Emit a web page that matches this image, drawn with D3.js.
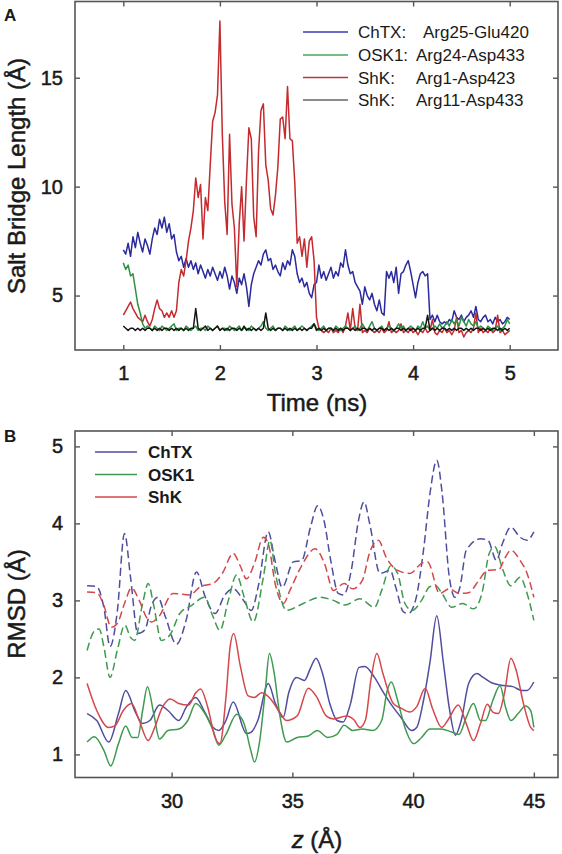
<!DOCTYPE html>
<html><head><meta charset="utf-8">
<script src="https://cdn.jsdelivr.net/npm/d3@7"></script>
<style>
body{margin:0;background:#fff}
svg{display:block}
text{font-family:"Liberation Sans",Arial,Helvetica,sans-serif;fill:#1a1a1a}
.heavy{stroke:#1a1a1a;stroke-width:0.5px}
</style>
</head><body>
<svg id="chart" width="562" height="854"></svg>
<script>
// ---------------- Panel A data (time grid 1.0 .. 5.0 ns, step 0.025) ----------------
const timeStart = 1.0, timeStep = 0.025;
const chtxBridge = [7.1,6.9,7.4,6.8,7.7,7.2,7.9,7.4,7.0,7.6,7.3,6.9,7.6,8.1,7.8,8.5,8.1,8.6,7.9,8.3,
 7.6,7.8,7.0,6.6,6.8,6.3,6.7,6.3,6.6,6.2,6.5,6.0,6.4,6.1,5.8,6.2,5.9,6.3,6.0,5.7,
 6.1,5.8,6.3,5.9,5.3,5.9,5.6,5.1,5.8,5.5,6.0,5.4,4.5,5.5,6.0,6.3,6.6,6.4,6.9,7.1,
 6.6,6.7,6.2,6.4,6.1,5.9,6.5,6.2,6.6,6.4,7.1,6.8,6.0,5.6,5.8,5.4,5.6,5.1,4.9,5.5,
 5.6,6.4,5.8,6.1,5.7,6.0,6.3,5.8,6.1,5.9,6.5,6.3,7.1,6.4,6.0,6.1,5.6,5.4,5.2,4.6,
 5.4,5.0,4.8,5.1,4.6,4.3,4.8,4.2,4.1,6.1,5.8,6.1,5.6,6.3,5.1,6.0,6.1,6.4,6.6,6.1,
 5.5,4.9,5.6,6.0,6.1,5.9,6.0,3.9,4.1,3.8,4.1,3.8,3.7,3.8,3.7,3.9,3.8,4.3,4.0,3.9,
 4.1,3.8,4.0,4.1,4.3,4.0,4.5,3.9,3.8,4.0,4.1,3.8,3.9,3.7,4.0,3.8,3.9,3.7,3.8,4.0,3.9];
const osk1Bridge = [6.5,6.2,6.4,5.9,6.0,5.3,4.6,4.2,3.7,3.5,3.6,3.5,3.4,3.6,3.5,3.4,3.6,3.5,3.4,3.5,
 3.6,3.7,3.4,3.5,3.5,3.4,3.6,3.5,3.4,3.5,3.6,3.4,3.5,3.5,3.4,3.6,3.5,3.4,3.5,3.6,
 3.4,3.5,3.5,3.4,3.6,3.5,3.4,3.5,3.6,3.4,3.5,3.5,3.4,3.6,3.5,3.4,3.5,3.6,3.8,3.5,
 3.4,3.5,3.6,3.4,3.5,3.5,3.4,3.6,3.5,3.4,3.5,3.6,3.4,3.5,3.6,3.5,3.4,3.5,3.6,3.7,
 3.5,3.4,3.5,3.6,3.4,3.5,3.5,3.4,3.6,3.5,3.4,3.5,3.6,3.5,3.4,3.5,3.6,3.4,3.5,3.7,
 3.5,3.4,3.6,3.8,3.5,3.4,3.5,3.6,3.4,3.5,3.6,3.5,3.4,3.5,3.7,3.5,3.6,3.4,3.5,3.6,
 3.5,3.4,3.6,3.5,3.8,3.5,3.6,3.4,3.5,3.6,3.5,3.7,3.5,3.6,3.8,3.6,3.9,3.7,3.9,3.6,
 4.0,3.8,3.6,3.9,3.7,3.6,3.8,3.5,3.6,3.5,3.4,3.6,3.5,3.4,3.5,3.6,3.4,3.5,3.6,3.9,3.7];
const shkArg1Bridge = [4.1,4.3,4.5,4.7,4.4,4.2,4.0,3.9,3.8,4.1,3.8,3.6,3.9,4.4,4.8,4.4,4.3,4.0,4.2,4.0,
 4.3,4.0,4.3,5.6,6.2,5.9,6.6,7.5,8.1,8.9,10.4,9.5,10.1,7.6,9.5,8.9,11.0,13.0,13.4,14.2,
 17.6,12.4,9.3,7.8,12.4,9.2,8.1,5.4,8.3,10.0,7.5,10.3,12.7,12.2,8.6,7.7,11.6,13.5,13.8,11.0,
 10.3,9.0,8.7,9.6,10.9,13.1,13.2,12.2,14.6,12.2,12.1,10.2,7.4,7.7,6.8,7.6,6.3,7.5,7.7,6.6,
 4.0,3.5,3.4,3.3,3.4,3.3,3.5,3.3,3.4,3.3,3.5,3.3,3.6,4.2,3.4,4.4,3.5,3.4,4.6,3.3,
 3.4,3.3,3.5,3.4,3.3,3.4,3.3,3.5,3.3,3.4,3.8,3.3,3.4,3.3,3.4,3.7,3.3,3.4,3.3,3.5,
 3.3,3.4,3.2,3.4,3.3,3.5,3.3,3.4,3.9,3.3,3.2,3.4,3.3,3.5,3.3,3.4,3.2,3.4,4.0,3.3,
 3.4,3.1,3.3,3.4,3.3,3.5,4.2,3.3,3.5,3.3,3.4,3.3,3.5,3.3,3.4,4.1,3.3,3.4,3.2,3.3,3.4];
const shkArg11Bridge = [3.6,3.5,3.4,3.5,3.5,3.4,3.5,3.4,3.5,3.4,3.5,3.5,3.4,3.5,3.4,3.5,3.4,3.5,3.5,3.4,
 3.5,3.4,3.5,3.4,3.5,3.4,3.5,3.4,3.5,3.5,4.4,3.5,3.4,3.5,3.6,3.4,3.5,3.4,3.5,3.6,
 3.4,3.5,3.4,3.5,3.4,3.5,3.5,3.4,3.5,3.4,3.6,3.4,3.5,3.4,3.5,3.4,3.5,3.4,3.5,4.2,
 3.5,3.4,3.5,3.4,3.5,3.5,3.4,3.5,3.4,3.5,3.4,3.5,3.4,3.5,3.4,3.5,3.4,3.5,3.5,3.7,
 3.4,3.5,3.4,3.5,3.4,3.5,3.5,3.4,3.5,3.4,3.5,3.4,3.5,3.5,3.4,3.5,3.4,3.5,3.4,3.5,
 3.5,3.4,3.5,3.4,3.5,3.4,3.5,3.5,3.4,3.5,3.4,3.5,3.4,3.5,3.5,3.4,3.5,3.4,3.5,3.4,
 3.5,3.4,3.5,3.4,3.5,3.5,4.1,3.4,3.5,3.4,3.5,3.4,3.5,3.5,3.4,3.5,3.4,3.5,3.4,3.5,
 3.5,3.4,3.5,3.4,3.5,3.4,3.5,3.5,3.4,3.5,3.4,3.5,3.4,3.5,3.5,3.4,3.5,3.4,3.5,3.4,3.5];
const seriesANames = ["ChTX:", "OSK1:", "ShK:", "ShK:"];
const seriesAPairs = ["Arg25-Glu420", "Arg24-Asp433", "Arg1-Asp423", "Arg11-Asp433"];
const timeTicks = [1, 2, 3, 4, 5];
const bridgeTicks = [5, 10, 15];

// ---------------- Panel B data: [z (Å), RMSD (Å)] ----------------
const chtxDashed = [[26.5,3.19],[26.9,3.18],[27.2,2.9],[27.45,2.4],[27.75,2.85],[28.05,3.87],[28.3,3.3],[28.6,2.57],[28.9,2.62],[29.15,2.92],[29.43,3.04],[29.75,2.78],[30.2,2.43],[30.6,2.74],[31.03,3.37],[31.4,3.04],[31.8,2.83],[32.2,3.07],[32.55,3.15],[32.98,3.0],[33.3,2.87],[33.6,3.2],[34.0,3.89],[34.28,3.52],[34.58,3.17],[35.04,3.5],[35.39,3.52],[35.75,3.95],[36.05,4.23],[36.3,4.05],[36.6,3.5],[36.9,3.09],[37.12,3.07],[37.44,3.39],[37.74,4.04],[37.97,4.28],[38.2,4.0],[38.63,3.35],[39.05,3.39],[39.3,3.15],[39.6,2.85],[39.8,2.83],[40.1,3.0],[40.43,3.65],[40.7,4.39],[40.98,4.82],[41.2,4.4],[41.5,3.3],[41.74,3.04],[41.94,3.17],[42.2,3.65],[42.8,3.8],[43.1,3.78],[43.45,3.52],[43.7,3.74],[44.05,3.95],[44.43,3.82],[44.72,3.78],[45.0,3.89]];
const osk1Dashed = [[26.5,2.35],[26.8,2.6],[27.0,2.63],[27.2,2.39],[27.45,2.0],[27.75,2.35],[28.06,2.68],[28.3,2.52],[28.47,2.48],[28.8,2.96],[29.03,3.22],[29.25,2.95],[29.58,2.48],[29.95,2.56],[30.34,2.83],[30.8,2.93],[31.37,3.04],[31.7,2.8],[32.0,2.61],[32.35,3.0],[32.69,3.33],[33.0,3.05],[33.38,2.72],[33.8,3.3],[34.07,3.78],[34.3,3.35],[34.76,2.87],[35.45,2.96],[36.14,3.04],[36.7,3.0],[37.17,2.94],[37.8,3.02],[38.4,2.91],[38.7,3.13],[39.08,3.45],[39.36,3.35],[39.66,2.96],[39.96,2.87],[40.35,3.0],[40.7,3.18],[40.93,3.19],[41.2,3.09],[41.6,2.91],[42.05,2.96],[42.5,2.89],[42.85,3.09],[43.15,3.61],[43.38,3.7],[43.68,3.43],[44.05,3.19],[44.43,3.3],[44.72,3.09],[45.0,2.74]];
const shkDashed = [[26.5,3.11],[26.9,3.1],[27.2,2.93],[27.5,2.65],[27.75,2.7],[28.05,2.96],[28.34,3.16],[28.66,3.0],[28.96,2.78],[29.17,2.72],[29.45,2.78],[30.06,3.09],[30.75,3.07],[31.2,3.18],[31.72,3.22],[32.1,3.35],[32.55,3.61],[32.84,3.45],[33.1,3.28],[33.43,3.48],[33.8,3.82],[34.0,3.74],[34.3,3.2],[34.63,2.96],[34.9,3.13],[35.35,3.43],[35.94,3.67],[36.33,3.48],[36.7,3.13],[37.14,3.22],[37.5,3.15],[37.9,3.26],[38.2,3.62],[38.56,3.78],[38.9,3.55],[39.36,3.39],[39.87,3.35],[40.35,3.48],[40.6,3.5],[41.1,3.09],[41.5,3.15],[41.9,3.09],[42.3,3.1],[42.7,3.25],[43.07,3.39],[43.55,3.4],[43.8,3.55],[44.05,3.65],[44.43,3.52],[44.72,3.35],[45.0,3.04]];
const chtxSolid = [[26.5,1.53],[26.9,1.44],[27.4,1.16],[27.8,1.53],[28.1,1.83],[28.5,1.55],[28.8,1.4],[29.1,1.44],[29.5,1.64],[29.85,1.57],[30.3,1.44],[30.6,1.61],[31.0,1.74],[31.34,1.57],[31.72,1.35],[31.95,1.31],[32.25,1.44],[32.55,1.68],[33.1,1.27],[33.3,1.29],[33.57,1.44],[34.0,1.92],[34.3,1.66],[34.62,1.48],[34.85,1.8],[35.17,2.0],[35.5,1.96],[35.75,2.12],[35.98,2.25],[36.25,2.05],[36.55,1.66],[36.85,1.44],[37.1,1.42],[37.4,1.65],[37.76,2.13],[38.0,2.14],[38.4,2.0],[38.8,1.79],[39.18,1.61],[39.5,1.48],[39.94,1.31],[40.15,1.35],[40.43,1.7],[40.7,2.2],[40.98,2.8],[41.25,2.2],[41.5,1.6],[41.75,1.25],[42.0,1.45],[42.3,1.92],[42.64,2.05],[42.9,2.0],[43.25,1.93],[43.6,1.9],[44.13,1.88],[44.5,1.83],[44.72,1.83],[45.0,1.94]];
const osk1Solid = [[26.5,1.16],[26.8,1.23],[27.2,1.05],[27.48,0.85],[27.8,1.14],[28.1,1.37],[28.37,1.22],[28.6,1.22],[28.8,1.57],[29.0,1.88],[29.26,1.53],[29.5,1.2],[29.85,1.31],[30.3,1.33],[30.67,1.44],[31.0,1.66],[31.34,1.55],[31.72,1.31],[31.95,1.12],[32.25,1.26],[32.7,1.52],[33.0,1.4],[33.28,1.05],[33.43,0.9],[33.65,1.18],[33.88,1.83],[34.05,2.31],[34.25,2.05],[34.47,1.53],[34.77,1.16],[35.2,1.22],[35.66,1.24],[36.03,1.31],[36.47,1.22],[36.85,1.26],[37.14,1.38],[37.5,1.31],[37.9,1.33],[38.33,1.31],[38.7,1.44],[38.93,1.83],[39.1,1.94],[39.36,1.7],[39.66,1.35],[40.03,1.14],[40.35,1.22],[40.7,1.33],[41.15,1.33],[41.6,1.29],[41.9,1.26],[42.2,1.48],[42.5,1.66],[42.79,1.44],[43.0,1.44],[43.3,1.7],[43.6,1.89],[43.83,1.61],[44.05,1.44],[44.35,1.53],[44.65,1.63],[44.87,1.57],[45.0,1.35]];
const shkSolid = [[26.5,1.92],[26.9,1.57],[27.4,1.35],[27.65,1.37],[28.0,1.57],[28.34,1.66],[28.66,1.44],[29.03,1.18],[29.3,1.35],[29.6,1.6],[29.95,1.72],[30.3,1.66],[30.7,1.64],[31.0,1.8],[31.2,1.85],[31.5,1.61],[31.8,1.22],[32.0,1.14],[32.25,1.74],[32.42,2.39],[32.57,2.57],[32.85,2.14],[33.17,1.76],[33.43,1.74],[33.72,1.8],[34.1,1.72],[34.47,1.55],[34.76,1.44],[35.2,1.5],[35.66,1.86],[36.0,1.75],[36.4,1.5],[36.7,1.46],[37.25,1.5],[37.55,1.45],[37.8,1.35],[38.03,1.45],[38.25,1.96],[38.5,2.31],[38.75,2.05],[39.18,1.66],[39.5,1.6],[39.87,1.55],[40.15,1.62],[40.5,1.86],[40.8,1.6],[41.19,1.35],[41.45,1.45],[41.87,1.64],[42.2,1.4],[42.5,1.18],[42.79,1.4],[43.07,1.65],[43.3,1.55],[43.53,1.53],[43.78,1.79],[44.05,2.25],[44.27,2.09],[44.57,1.66],[44.87,1.35],[45.0,1.31]];
const seriesBNames = ["ChTX", "OSK1", "ShK"];
const zTicks = [30, 35, 40, 45];
const rmsdTicks = [1, 2, 3, 4, 5];

// ---------------- drawing ----------------
const svg = d3.select("#chart");
const frameColor = "#555";

const xA = d3.scaleLinear().domain([0.5, 5.5]).range([75, 558]);
const yA = d3.scaleLinear().domain([2.5, 18.5]).range([350, 1.5]);
const xB = d3.scaleLinear().domain([26, 46]).range([75, 558]);
const yB = d3.scaleLinear().domain([0.7, 5.2]).range([777.5, 431]);
const fmt = d3.format("d");

function frame(x, y, xt, yt) {
  const [x0, x1] = x.range(), [y0, y1] = y.range();
  const g = svg.append("g");
  const style = s => s.attr("font-family", null).attr("font-size", null)
    .call(a => a.select(".domain").remove())
    .call(a => a.selectAll(".tick line").attr("stroke", frameColor).attr("stroke-width", 1.4))
    .call(a => a.selectAll(".tick text").style("font-size", "20px").attr("class", "heavy").attr("fill", "#1a1a1a"));
  g.append("g").attr("transform", `translate(0,${y0})`)
    .call(d3.axisBottom(x).tickValues(xt).tickFormat(fmt).tickSizeInner(-5).tickSizeOuter(0).tickPadding(16)).call(style);
  g.append("g").attr("transform", `translate(0,${y1})`)
    .call(d3.axisTop(x).tickValues(xt).tickSizeInner(-5).tickSizeOuter(0).tickFormat("")).call(style);
  g.append("g").attr("transform", `translate(${x0},0)`)
    .call(d3.axisLeft(y).tickValues(yt).tickFormat(fmt).tickSizeInner(-5).tickSizeOuter(0).tickPadding(12)).call(style);
  g.append("g").attr("transform", `translate(${x1},0)`)
    .call(d3.axisRight(y).tickValues(yt).tickSizeInner(-5).tickSizeOuter(0).tickFormat("")).call(style);
  g.append("rect").attr("x", x0).attr("y", y1).attr("width", x1 - x0).attr("height", y0 - y1)
    .attr("fill", "none").attr("stroke", frameColor).attr("stroke-width", 1.6);
}

// ---- Panel A ----
const colA = ["#2a2a9e", "#2f9142", "#c42a2e", "#141414"];
const legColA = ["#3b3bb0", "#4aa45c", "#b8383c", "#666666"];
const seriesA = [chtxBridge, shkArg1Bridge, osk1Bridge, shkArg11Bridge];
const seriesAColor = [colA[0], colA[2], colA[1], colA[3]];
const lineA = d3.line().x((d, i) => xA(timeStart + i * timeStep)).y(d => yA(d));
seriesA.forEach((s, k) => {
  svg.append("path").datum(s).attr("d", lineA).attr("fill", "none")
    .attr("stroke", seriesAColor[k]).attr("stroke-width", 1.5).attr("stroke-linejoin", "round");
});
frame(xA, yA, timeTicks, bridgeTicks);

const legA = svg.append("g");
const legARowY = [32, 55, 77.5, 100];
const pairX = [423, 416, 416, 416];
seriesANames.forEach((n, i) => {
  legA.append("line").attr("x1", 303).attr("x2", 348).attr("y1", legARowY[i]).attr("y2", legARowY[i])
    .attr("stroke", legColA[i]).attr("stroke-width", 1.6);
  legA.append("text").attr("x", 358).attr("y", legARowY[i] + 6).style("font-size", "17px").text(n);
  legA.append("text").attr("x", pairX[i]).attr("y", legARowY[i] + 6).style("font-size", "17px").text(seriesAPairs[i]);
});

svg.append("text").attr("x", 317).attr("y", 411).attr("text-anchor", "middle").attr("class", "heavy")
  .style("font-size", "24px").text("Time (ns)");
svg.append("text").attr("transform", "translate(25,176) rotate(-90)").attr("text-anchor", "middle").attr("class", "heavy")
  .style("font-size", "24px").text("Salt Bridge Length (Å)");
svg.append("text").attr("x", 4).attr("y", 21).style("font-size", "17px").style("font-weight", "bold").text("A");

// ---- Panel B ----
const colB = ["#4e4e9c", "#3f9a50", "#d4474c"];
const lineB = d3.line().x(d => xB(d[0])).y(d => yB(d[1])).curve(d3.curveMonotoneX);
const dashedB = [chtxDashed, osk1Dashed, shkDashed];
const solidB = [chtxSolid, osk1Solid, shkSolid];
dashedB.forEach((s, k) => {
  svg.append("path").datum(s).attr("d", lineB).attr("fill", "none")
    .attr("stroke", colB[k]).attr("stroke-width", 1.5).attr("stroke-dasharray", "8,4");
});
solidB.forEach((s, k) => {
  svg.append("path").datum(s).attr("d", lineB).attr("fill", "none")
    .attr("stroke", colB[k]).attr("stroke-width", 1.5);
});
frame(xB, yB, zTicks, rmsdTicks);

const legB = svg.append("g");
const legBRowY = [452, 474.5, 497];
seriesBNames.forEach((n, i) => {
  legB.append("line").attr("x1", 95).attr("x2", 137).attr("y1", legBRowY[i]).attr("y2", legBRowY[i])
    .attr("stroke", colB[i]).attr("stroke-width", 1.5);
  legB.append("text").attr("x", 148).attr("y", legBRowY[i] + 6).style("font-size", "17px")
    .style("font-weight", "bold").text(n);
});

const zl = svg.append("text").attr("x", 317).attr("y", 848).attr("text-anchor", "middle").attr("class", "heavy")
  .style("font-size", "24px");
zl.append("tspan").style("font-style", "italic").text("z");
zl.append("tspan").text(" (Å)");
svg.append("text").attr("transform", "translate(25,604) rotate(-90)").attr("text-anchor", "middle").attr("class", "heavy")
  .style("font-size", "24px").text("RMSD (Å)");
svg.append("text").attr("x", 4).attr("y", 442).style("font-size", "17px").style("font-weight", "bold").text("B");
</script>
</body></html>
